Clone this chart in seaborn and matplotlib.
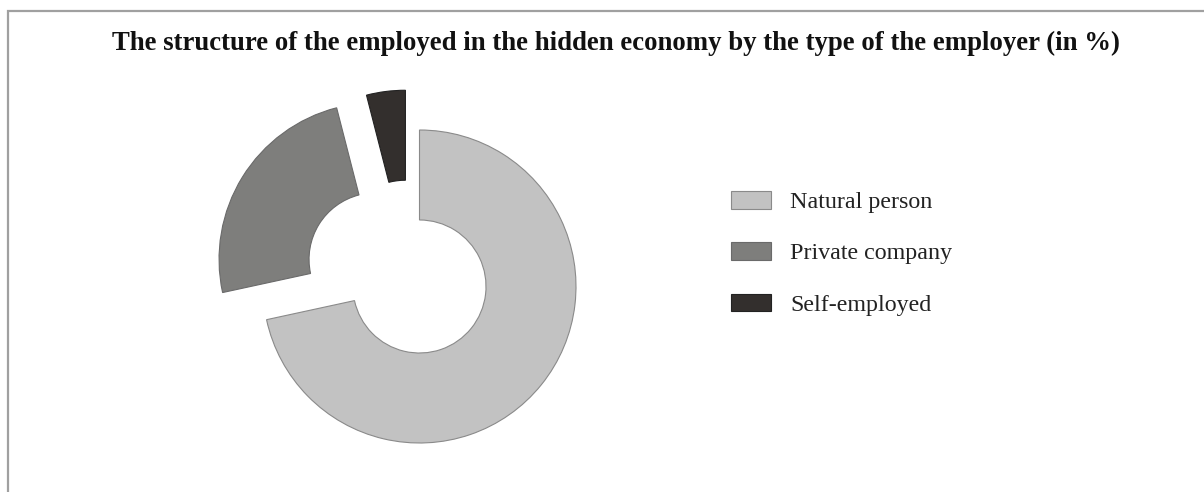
import matplotlib
matplotlib.use("Agg")
import matplotlib.pyplot as plt
import seaborn as sns
from matplotlib.patches import Rectangle

sns.set_theme(style="white")
plt.rcParams['font.family'] = ['Liberation Serif', 'DejaVu Serif']

categories = ["Natural person", "Private company", "Self-employed"]
shares = [71.6, 24.4, 4.0]
title = "The structure of the employed in the hidden economy by the type of the employer (in %)"

colors = ["#c2c2c2", "#7e7e7c", "#332f2d"]
edges = ["#8a8a8a", "#6a6a6a", "#222222"]

W, H = 1204, 492
fig = plt.figure(figsize=(W / 100, H / 100), dpi=100)
fig.patch.set_facecolor("white")

# donut axes: 1 data unit = 156.5 px, centre at (419.5, 286.5) px from top-left
R = 156.5
cx, cy = 419.5, H - 286.5
xl = (-1.6, 1.6)
yl = (-1.32, 1.6)
left = cx + xl[0] * R
bottom = cy + yl[0] * R
ax = fig.add_axes([left / W, bottom / H, (xl[1] - xl[0]) * R / W, (yl[1] - yl[0]) * R / H])

wedges, _ = ax.pie(shares, colors=colors, startangle=90, counterclock=False,
                   explode=[0, 0.33, 0.27],
                   wedgeprops=dict(width=0.575, linewidth=0.8))
for w, ec in zip(wedges, edges):
    w.set_edgecolor(ec)
# small sideways nudge of the detached dark segment, as in the original
wedges[2].set_center((-0.09, 0.254))
ax.set_xlim(*xl)
ax.set_ylim(*yl)
ax.set_aspect("equal", adjustable="datalim")
ax.axis("off")

fig.text(616 / W, 1 - 50 / H, title, ha="center", va="baseline",
         fontsize=19.3, fontweight="bold", color="#111111")

leg = fig.legend(wedges, categories, loc="upper left",
                 bbox_to_anchor=(731 / W, 1 - 191 / H), frameon=False,
                 fontsize=17.3, handlelength=1.67, handleheight=0.75,
                 handletextpad=0.8, labelspacing=1.21, borderpad=0, borderaxespad=0)
for t in leg.get_texts():
    t.set_color("#222222")

# outer frame
fig.add_artist(Rectangle((8 / W, -0.1), 1.2, 1.1 - 11 / H, transform=fig.transFigure,
                         fill=False, edgecolor="#a0a0a0", linewidth=1.6))

fig.savefig("out.png", dpi=100, facecolor="white")
